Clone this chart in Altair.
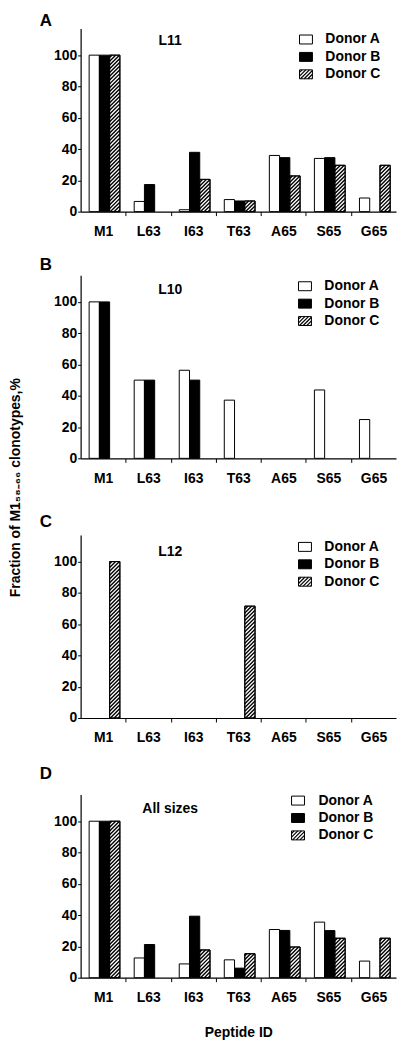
import altair as alt
import pandas as pd

peptides = ["M1", "L63", "I63", "T63", "A65", "S65", "G65"]
donors = ["Donor A", "Donor B", "Donor C"]

# Panel A: L11
l11_a = [100, 6.5, 1.2, 7.7, 35.9, 34.0, 8.7]
l11_b = [100, 17.3, 37.9, 6.8, 34.5, 34.5, None]
l11_c = [100, None, 20.6, 6.8, 22.8, 29.6, 29.6]
# Panel B: L10
l10_a = [100, 50, 56.3, 37.2, None, 43.7, 24.8]
l10_b = [100, 50, 50, None, None, None, None]
l10_c = [None, None, None, None, None, None, None]
# Panel C: L12
l12_a = [None, None, None, None, None, None, None]
l12_b = [None, None, None, None, None, None, None]
l12_c = [100, None, None, 71.5, None, None, None]
# Panel D: all sizes
all_a = [100, 12.6, 8.8, 11.4, 30.8, 35.5, 10.6]
all_b = [100, 21.2, 39.3, 6.1, 30.2, 30.1, None]
all_c = [100, None, 17.7, 15.3, 19.6, 25.2, 25.2]

y_ticks = [0, 20, 40, 60, 80, 100]
y_title = "Fraction of M1\u2085\u2088\u208b\u2086\u2086 clonotypes,%"

FONT = "Liberation Sans"
W, H, YMAX = 317, 184, 117
PX_X = W / 7.0
PX_Y = H / YMAX
BAR_W = 10.3 / PX_X
SHIFT = 0.03
PERIOD_PX = 3.8
HATCH_W = 1.4

xscale = alt.Scale(domain=[-0.5, 6.5], nice=False, zero=False)
yscale = alt.Scale(domain=[0, YMAX], nice=False, zero=True)

arr = "[" + ",".join("'%s'" % p for p in peptides) + "]"
label_expr = "datum.value % 1 === 0 ? " + arr + "[datum.value] : ''"
x_values = [k / 2 for k in range(0, 13)]

fill_scale = alt.Scale(domain=donors, range=["white", "black", "white"])


def px2x(p):
    return p / PX_X - 0.5


def py2y(p):
    return YMAX - p / PX_Y


def hatch_segments(x1, x2, v):
    segs = []
    rise = (x2 - x1) * PX_X / PX_Y
    period = PERIOD_PX / PX_Y
    y0 = -rise + period * 0.5
    while y0 < v:
        xs, ys, xe, ye = x1, y0, x2, y0 + rise
        if ys < 0:
            xs = x1 + (-y0) / rise * (x2 - x1)
            ys = 0
        if ye > v:
            xe = x1 + (v - y0) / rise * (x2 - x1)
            ye = v
        if xe > xs:
            segs.append(dict(hx1=xs, hx2=xe, hy1=ys, hy2=ye))
        y0 += period
    return segs


def legend_frames(lx, ly, loff):
    rows, hat = [], []
    for k, d in enumerate(donors):
        cy = ly + 7 + k * 17.5
        sx1, sx2 = lx, lx + 13
        sy1, sy2 = cy - 4.5, cy + 4.5
        rows.append(dict(donor=d, lx1=px2x(sx1), lx2=px2x(sx2), ly1=py2y(sy1),
                         ly2=py2y(sy2), tx=px2x(sx2 + loff), ty=py2y(cy)))
        if k == 2:
            c = sx1 + sy1 + 2.6
            while c < sx2 + sy2:
                xa = max(sx1, c - sy2)
                xb = min(sx2, c - sy1)
                if xb > xa + 0.4:
                    hat.append(dict(hx1=px2x(xa), hy1=py2y(c - xa),
                                    hx2=px2x(xb), hy2=py2y(c - xb)))
                c += 3.7
    return (pd.DataFrame(rows, columns=["donor", "lx1", "lx2", "ly1", "ly2", "tx", "ty"]),
            pd.DataFrame(hat, columns=["hx1", "hx2", "hy1", "hy2"]))


def panel(letter, sub, a, b, c, lx, ly, loff, sub_y, letter_y, ytitle=None, xtitle=None):
    rows, hatch = [], []
    for i, pep in enumerate(peptides):
        for j, (d, vals) in enumerate(zip(donors, (a, b, c))):
            v = vals[i]
            if v is None:
                continue
            xc = i + SHIFT + (j - 1) * BAR_W
            rows.append(dict(pep=pep, donor=d, v=v, base=0,
                             x1=xc - BAR_W / 2, x2=xc + BAR_W / 2))
            if j == 2:
                hatch += hatch_segments(xc - BAR_W / 2, xc + BAR_W / 2, v)
    bars = pd.DataFrame(rows, columns=["pep", "donor", "v", "base", "x1", "x2"])
    hatch_df = pd.DataFrame(hatch, columns=["hx1", "hx2", "hy1", "hy2"])
    hatched = bars[bars.donor == "Donor C"]
    leg_df, leg_hatch = legend_frames(lx, ly, loff)

    xax = dict(values=x_values, labelExpr=label_expr,
               tickOpacity={"condition": {"test": "datum.value % 1 === 0", "value": 0}, "value": 1},
               tickSize=4, labelPadding=9, labelFontSize=14, labelFontWeight="bold",
               labelFont=FONT, labelOverlap=False, labelFlush=False, domainColor="black",
               tickColor="black", labelColor="black", grid=False, domainWidth=1.2)
    if xtitle:
        xax.update(title=xtitle, titleFont=FONT, titleFontSize=14, titleFontWeight="bold",
                   titleColor="black", titlePadding=21)
    else:
        xax.update(title=None)
    yax = dict(values=y_ticks, tickSize=3, labelPadding=1, labelFontSize=14,
               labelFontWeight="bold", labelFont=FONT, domainColor="black",
               tickColor="black", labelColor="black", grid=False, domainWidth=1.2)
    if ytitle:
        yax.update(title=ytitle, titleFont=FONT, titleFontSize=14, titleFontWeight="bold",
                   titleColor="black", titleX=-58, titleY=-48)
    else:
        yax.update(title=None)
    X_AX = alt.Axis(**xax)
    Y_AX = alt.Axis(**yax)

    def X(f):
        return alt.X(f, scale=xscale, axis=X_AX)

    def Y(f):
        return alt.Y(f, scale=yscale, axis=Y_AX)

    bars_l = alt.Chart(bars).mark_rect(stroke="black", strokeWidth=1).encode(
        x=X("x1:Q"), x2="x2:Q", y=Y("v:Q"), y2="base:Q",
        fill=alt.Fill("donor:N", scale=fill_scale, legend=None),
    )
    hatch_l = alt.Chart(hatch_df).mark_rule(color="black", strokeWidth=HATCH_W).encode(
        x=X("hx1:Q"), x2="hx2:Q", y=Y("hy1:Q"), y2="hy2:Q",
    )
    outline_l = alt.Chart(hatched).mark_rect(fillOpacity=0, stroke="black", strokeWidth=1).encode(
        x=X("x1:Q"), x2="x2:Q", y=Y("v:Q"), y2="base:Q",
    )
    leg_sw = alt.Chart(leg_df).mark_rect(stroke="black", strokeWidth=1).encode(
        x=X("lx1:Q"), x2="lx2:Q", y=Y("ly1:Q"), y2="ly2:Q",
        fill=alt.Fill("donor:N", scale=fill_scale, legend=None),
    )
    leg_h = alt.Chart(leg_hatch).mark_rule(color="black", strokeWidth=1.2).encode(
        x=X("hx1:Q"), x2="hx2:Q", y=Y("hy1:Q"), y2="hy2:Q",
    )
    leg_t = alt.Chart(leg_df).mark_text(
        font=FONT, fontSize=14, fontWeight="bold", color="black", align="left",
        baseline="middle"
    ).encode(x=X("tx:Q"), y=Y("ty:Q"), text="donor:N")
    sub_l = alt.Chart(pd.DataFrame({"t": [sub]})).mark_text(
        font=FONT, fontSize=14, fontWeight="bold", color="black"
    ).encode(x=alt.value(90), y=alt.value(sub_y), text="t:N")
    letter_l = alt.Chart(pd.DataFrame({"t": [letter]})).mark_text(
        font=FONT, fontSize=17, fontWeight="bold", color="black", align="left",
        baseline="alphabetic"
    ).encode(x=alt.value(-41), y=alt.value(letter_y), text="t:N")

    return alt.layer(bars_l, hatch_l, outline_l, leg_sw, leg_h, leg_t, sub_l,
                     letter_l).properties(width=W, height=H)


pA = panel("A", "L11", l11_a, l11_b, l11_c, 220, 4, 13, 13, -3)
pB = panel("B", "L10", l10_a, l10_b, l10_c, 219, 4, 13, 15, -5)
pC = panel("C", "L12", l12_a, l12_b, l12_c, 219, 5, 13, 17, -8, ytitle=y_title)
pD = panel("D", "All sizes", all_a, all_b, all_c, 212, -1, 14, 14, -16, xtitle="Peptide ID")

inner = alt.vconcat(pB, pC, pD, spacing=77, bounds="flush")
chart = alt.vconcat(pA, inner, spacing=64, bounds="flush").properties(
    padding=0).configure_view(stroke="transparent")

chart.save("out.html", embed_options={"renderer": "svg", "actions": False})
